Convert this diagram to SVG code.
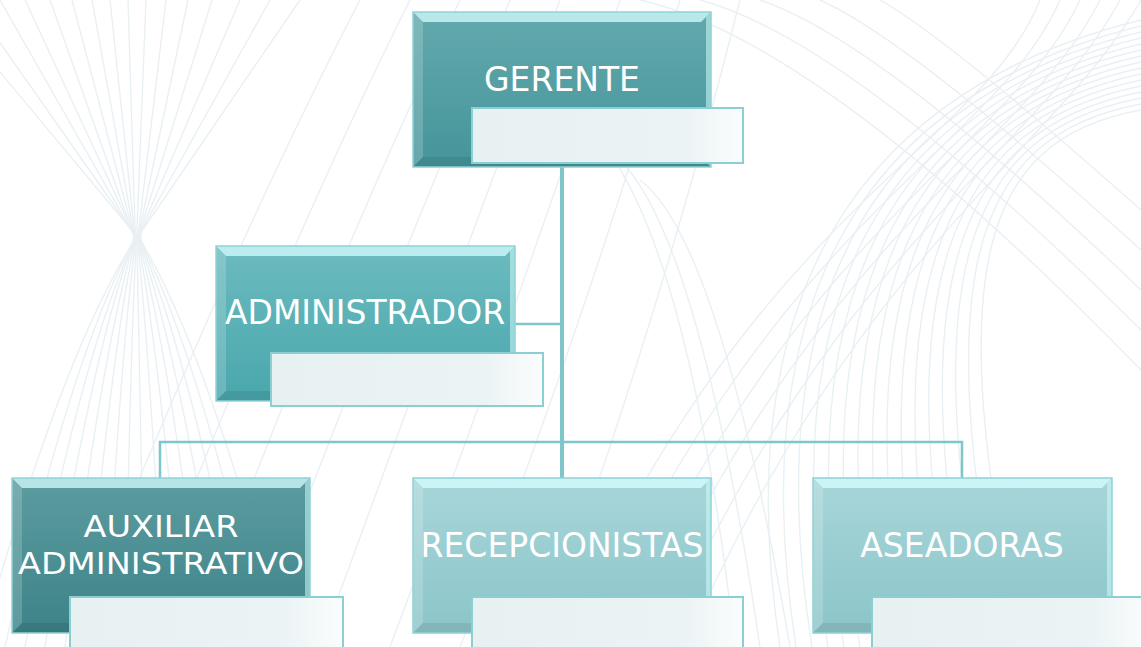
<svg xmlns="http://www.w3.org/2000/svg" width="1141" height="647" viewBox="0 0 1141 647">
<style>
.bg{fill:none;stroke:#e9f0f4;stroke-width:1.4}
.conn{fill:none;stroke:#7ec6ca}
.lbl{font-family:"DejaVu Sans","Liberation Sans",sans-serif;font-size:33px;fill:#ffffff;text-anchor:middle}
.lbl2{font-size:31px}
.edge{fill:none;stroke:#8fd2d6;stroke-width:1.5}
.sub{fill:url(#subg);stroke:#8ccfd3;stroke-width:2}
.bt{fill:#d6feff;opacity:.75}
.bl{fill:#ffffff;opacity:.18}
.br{fill:#d0fbfc;opacity:.55}
.bb{fill:#000000;opacity:.08}
</style>
<defs>
<linearGradient id="gG" x1="0" y1="0" x2="0" y2="1"><stop offset="0" stop-color="#63a9ad"/><stop offset="1" stop-color="#45959a"/></linearGradient>
<linearGradient id="gA" x1="0" y1="0" x2="0" y2="1"><stop offset="0" stop-color="#6cbbbf"/><stop offset="1" stop-color="#49a7ac"/></linearGradient>
<linearGradient id="gX" x1="0" y1="0" x2="0" y2="1"><stop offset="0" stop-color="#5c9ca0"/><stop offset="1" stop-color="#3d8388"/></linearGradient>
<linearGradient id="gL" x1="0" y1="0" x2="0" y2="1"><stop offset="0" stop-color="#a8d6d9"/><stop offset="1" stop-color="#8bc5c9"/></linearGradient>
<linearGradient id="subg" x1="0" y1="0" x2="1" y2="0"><stop offset="0" stop-color="#e8f1f2"/><stop offset="0.78" stop-color="#ebf3f4"/><stop offset="1" stop-color="#fbfdfd"/></linearGradient>
</defs>
<rect width="1141" height="647" fill="#ffffff"/>
<g id="background">
<path class="bg" d="M-60,0 L130,228 Q137,236 131,246 Q60,360 -20,647"/>
<path class="bg" d="M-30,0 L130,228 Q137,236 131,246 Q70,360 5,647"/>
<path class="bg" d="M0,0 L130,228 Q137,236 132,246 Q80,360 25,647"/>
<path class="bg" d="M25,0 L131,228 Q137,236 132,246 Q90,360 45,647"/>
<path class="bg" d="M50,0 L131,228 Q137,236 133,246 Q100,360 65,647"/>
<path class="bg" d="M72,0 L132,228 Q137,236 134,246 Q110,360 85,647"/>
<path class="bg" d="M92,0 L133,228 Q137,236 135,246 Q120,360 105,647"/>
<path class="bg" d="M110,0 L134,228 Q137,236 136,246 Q130,360 125,647"/>
<path class="bg" d="M128,0 L135,228 Q137,236 137,246 Q140,360 145,647"/>
<path class="bg" d="M146,0 L137,228 Q137,236 138,246 Q150,360 165,647"/>
<path class="bg" d="M166,0 L139,228 Q137,236 139,246 Q160,360 185,647"/>
<path class="bg" d="M188,0 L140,228 Q137,236 140,246 Q170,360 205,647"/>
<path class="bg" d="M212,0 L141,228 Q137,236 141,246 Q180,360 225,647"/>
<path class="bg" d="M240,0 L142,228 Q137,236 142,246 Q190,360 245,647"/>
<path class="bg" d="M270,0 L143,228 Q137,236 143,246 Q200,360 265,647"/>
<path class="bg" d="M300,0 L144,228 Q137,236 144,246 Q210,360 285,647"/>
<path class="bg" d="M360,0 Q230,250 70,647"/>
<path class="bg" d="M410,0 Q280,260 130,647"/>
<path class="bg" d="M460,0 Q330,270 190,647"/>
<path class="bg" d="M510,0 Q390,280 250,647"/>
<path class="bg" d="M560,0 Q450,290 320,647"/>
<path class="bg" d="M620,0 Q520,300 390,647"/>
<path class="bg" d="M680,0 Q590,310 460,647"/>
<path class="bg" d="M740,0 Q660,320 540,647"/>
<path class="bg" d="M620,160 Q700,240 760,647"/>
<path class="bg" d="M600,140 Q690,250 735,647"/>
<path class="bg" d="M640,180 Q720,240 790,647"/>
<path class="bg" d="M1141,20 C900,80 720,250 780,647"/>
<path class="bg" d="M1141,26 C905,84 735,252 796,647"/>
<path class="bg" d="M1141,32 C910,88 750,254 812,647"/>
<path class="bg" d="M1141,38 C915,92 765,256 828,647"/>
<path class="bg" d="M1141,44 C920,96 780,258 844,647"/>
<path class="bg" d="M1141,50 C925,100 795,260 860,647"/>
<path class="bg" d="M1141,56 C930,104 810,262 876,647"/>
<path class="bg" d="M1141,62 C935,108 825,264 892,647"/>
<path class="bg" d="M1141,68 C940,112 840,266 908,647"/>
<path class="bg" d="M1141,74 C945,116 855,268 924,647"/>
<path class="bg" d="M1141,80 C950,120 870,270 940,647"/>
<path class="bg" d="M1141,86 C955,124 885,272 956,647"/>
<path class="bg" d="M1141,92 C960,128 900,274 972,647"/>
<path class="bg" d="M1141,98 C965,132 915,276 988,647"/>
<path class="bg" d="M1141,104 C970,136 930,278 1004,647"/>
<path class="bg" d="M1141,110 C975,140 945,280 1020,647"/>
<path class="bg" d="M1040,0 C980,150 760,200 560,647"/>
<path class="bg" d="M1060,0 C995,150 780,210 585,647"/>
<path class="bg" d="M1080,0 C1010,150 800,220 610,647"/>
<path class="bg" d="M1100,0 C1025,150 820,230 635,647"/>
<path class="bg" d="M1120,0 C1040,150 840,240 660,647"/>
<path class="bg" d="M1141,0 C1055,150 860,250 685,647"/>
<path class="bg" d="M700,0 Q850,40 1141,330"/>
<path class="bg" d="M760,0 Q880,40 1141,290"/>
<path class="bg" d="M820,0 Q910,40 1141,250"/>
<path class="bg" d="M880,0 Q950,40 1141,210"/>
<path class="bg" d="M640,0 Q820,40 1141,370"/>
</g>
<g id="connectors">
<line class="conn" x1="562" y1="166" x2="562" y2="478" stroke-width="4"/>
<line class="conn" x1="515" y1="324" x2="562" y2="324" stroke-width="2.5"/>
<polyline class="conn" points="160,478 160,442 962,442 962,478" stroke-width="2.5"/>
</g>
<g id="node-gerente">
<rect x="413" y="12" width="298" height="155" fill="url(#gG)"/>
<polygon class="bt" points="413,12 711,12 701,22 423,22"/>
<polygon class="bl" points="413,12 423,22 423,157 413,167"/>
<polygon class="br" points="711,12 711,167 706,162 706,17"/>
<polygon class="bb" points="413,167 711,167 701,157 423,157"/>
<rect class="edge" x="413" y="12" width="298" height="155"/>
<text class="lbl" x="562" y="91">GERENTE</text>
<rect class="sub" x="472" y="108" width="271" height="55"/>
</g>
<g id="node-administrador">
<rect x="216" y="246" width="299" height="155" fill="url(#gA)"/>
<polygon class="bt" points="216,246 515,246 505,256 226,256"/>
<polygon class="bl" points="216,246 226,256 226,391 216,401"/>
<polygon class="br" points="515,246 515,401 510,396 510,251"/>
<polygon class="bb" points="216,401 515,401 505,391 226,391"/>
<rect class="edge" x="216" y="246" width="299" height="155"/>
<text class="lbl" x="365" y="324">ADMINISTRADOR</text>
<rect class="sub" x="271" y="353" width="272" height="53"/>
</g>
<g id="node-auxiliar">
<rect x="12" y="478" width="298" height="155" fill="url(#gX)"/>
<polygon class="bt" points="12,478 310,478 300,488 22,488"/>
<polygon class="bl" points="12,478 22,488 22,623 12,633"/>
<polygon class="br" points="310,478 310,633 305,628 305,483"/>
<polygon class="bb" points="12,633 310,633 300,623 22,623"/>
<rect class="edge" x="12" y="478" width="298" height="155"/>
<text class="lbl lbl2" x="161" y="537" textLength="155" lengthAdjust="spacingAndGlyphs">AUXILIAR</text>
<text class="lbl lbl2" x="161" y="574" textLength="286" lengthAdjust="spacingAndGlyphs">ADMINISTRATIVO</text>
<rect class="sub" x="70" y="597" width="273" height="60"/>
</g>
<g id="node-recepcionistas">
<rect x="413" y="478" width="298" height="155" fill="url(#gL)"/>
<polygon class="bt" points="413,478 711,478 701,488 423,488"/>
<polygon class="bl" points="413,478 423,488 423,623 413,633"/>
<polygon class="br" points="711,478 711,633 706,628 706,483"/>
<polygon class="bb" points="413,633 711,633 701,623 423,623"/>
<rect class="edge" x="413" y="478" width="298" height="155"/>
<text class="lbl" x="562" y="557">RECEPCIONISTAS</text>
<rect class="sub" x="472" y="597" width="271" height="60"/>
</g>
<g id="node-aseadoras">
<rect x="813" y="478" width="299" height="155" fill="url(#gL)"/>
<polygon class="bt" points="813,478 1112,478 1102,488 823,488"/>
<polygon class="bl" points="813,478 823,488 823,623 813,633"/>
<polygon class="br" points="1112,478 1112,633 1107,628 1107,483"/>
<polygon class="bb" points="813,633 1112,633 1102,623 823,623"/>
<rect class="edge" x="813" y="478" width="299" height="155"/>
<text class="lbl" x="962" y="557">ASEADORAS</text>
<rect class="sub" x="872" y="597" width="280" height="60"/>
</g>
</svg>
